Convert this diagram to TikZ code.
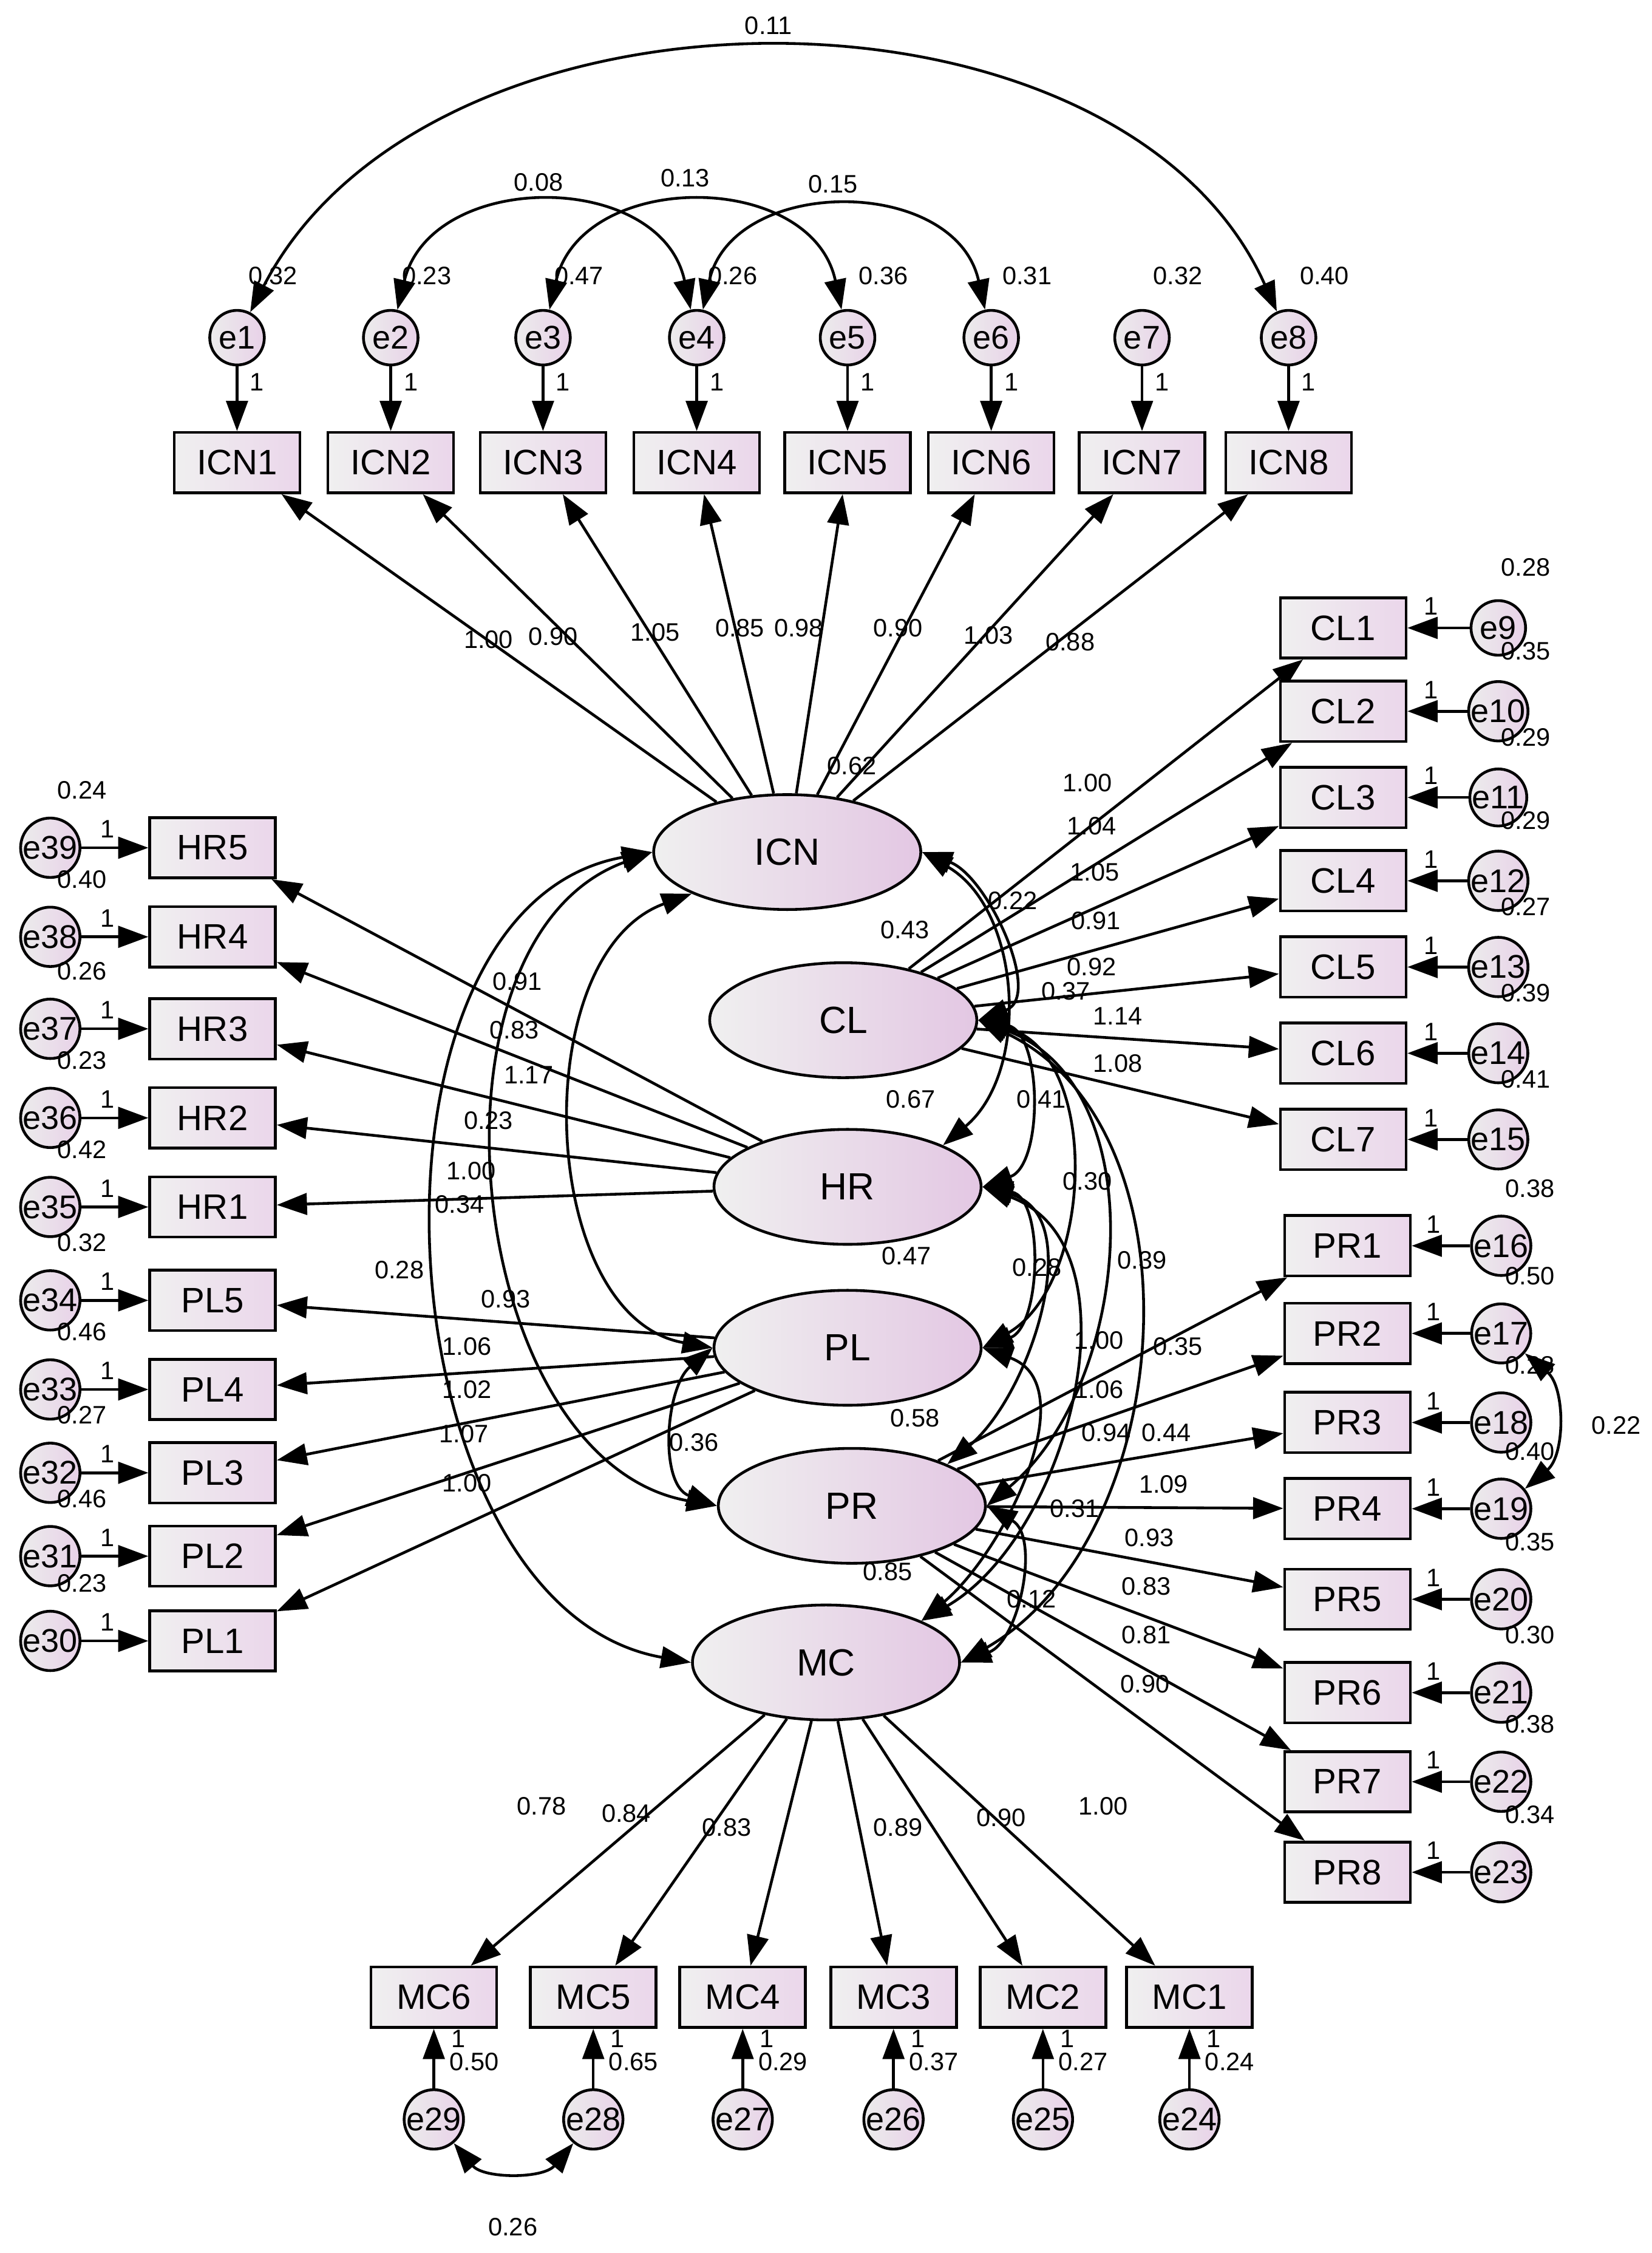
\documentclass[tikz,border=0pt]{standalone}
\usepackage{fontspec}
\setmainfont{Liberation Sans}
\usetikzlibrary{shapes.geometric,arrows.meta}
\tikzset{
  obs/.style={draw, line width=1.1pt, rectangle, minimum width=1.75cm, minimum height=0.84cm, inner sep=0pt,
    left color=gray!12, right color=violet!16, font=\fontsize{14}{14}\selectfont},
  err/.style={draw, line width=1.1pt, circle, minimum size=0.76cm, inner sep=0pt,
    left color=gray!15, right color=violet!18, font=\fontsize{13}{13}\selectfont},
  lat/.style={draw, line width=1.1pt, ellipse, minimum width=3.72cm, minimum height=1.6cm,
    left color=gray!12, right color=violet!22, font=\fontsize{15}{15}\selectfont},
  tip/.tip={Triangle[length=0.42cm, width=0.3cm]},
  path/.style={line width=1.1pt, -tip},
  cov/.style={line width=1.1pt, tip-tip},
  lbl/.style={font=\fontsize{10}{10}\selectfont, inner sep=0pt}
}
\begin{document}
\begin{tikzpicture}[x=0.02cm, y=-0.02cm]
  \useasboundingbox (0,0) rectangle (1150,1568);
  % latent variables
  \node[lat] (ICN) at (548,593) {ICN};
  \node[lat] (CL) at (587,710) {CL};
  \node[lat] (HR) at (590,826) {HR};
  \node[lat] (PL) at (590,938) {PL};
  \node[lat] (PR) at (593,1048) {PR};
  \node[lat] (MC) at (575,1157) {MC};
  % latent variances
  \foreach \x/\y/\v in {593/533/0.62, 630/647/0.43, 634/765/0.67, 631/874/0.47, 637/987/0.58, 618/1094/0.85}
    \node[lbl] at (\x,\y) {\v};
  % ICN indicators
  \foreach \i/\x/\v in {1/165/0.32, 2/272/0.23, 3/378/0.47, 4/485/0.26, 5/590/0.36, 6/690/0.31, 7/795/0.32, 8/897/0.40} {
    \node[err] (e\i) at (\x,235) {e\i};
    \node[obs] (ICN\i) at (\x,322) {ICN\i};
    \draw[path] (e\i) -- (ICN\i);
    \draw[path] (ICN) -- (ICN\i);
    \node[lbl] at (\x+25,192) {\v};
    \node[lbl] at (\x+14,266) {1};
  }
  \foreach \x/\y/\v in {340/445/1.00, 385/443/0.90, 456/440/1.05, 515/437/0.85, 556/437/0.98, 625/437/0.90, 688/442/1.03, 745/447/0.88}
    \node[lbl] at (\x,\y) {\v};
  % error covariances, top
  \draw[cov] (e1) .. controls (300,-26) and (780,-26) .. (e8);
  \draw[cov] (e2) .. controls (300,118) and (460,118) .. (e4);
  \draw[cov] (e3) .. controls (405,118) and (565,118) .. (e5);
  \draw[cov] (e4) .. controls (510,122) and (665,122) .. (e6);
  \node[lbl] at (535,18) {0.11};
  \node[lbl] at (375,127) {0.08};
  \node[lbl] at (477,124) {0.13};
  \node[lbl] at (580,128) {0.15};
  % CL indicators
  \foreach \i/\y/\e/\v in {1/437/9/0.28, 2/495/10/0.35, 3/555/11/0.29, 4/613/12/0.29, 5/673/13/0.27, 6/733/14/0.39, 7/793/15/0.41} {
    \node[obs] (CL\i) at (935,\y) {CL\i};
    \node[err] (e\e) at (1043,\y) {e\e};
    \draw[path] (e\e) -- (CL\i);
    \draw[path] (CL) -- (CL\i);
    \node[lbl] at (1062,\y-42) {\v};
    \node[lbl] at (996,\y-15) {1};
  }
  \foreach \x/\y/\v in {757/545/1.00, 760/575/1.04, 762/607/1.05, 763/641/0.91, 760/673/0.92, 778/707/1.14, 778/740/1.08}
    \node[lbl] at (\x,\y) {\v};
  % PR indicators
  \foreach \i/\y/\e/\v in {1/867/16/0.38, 2/928/17/0.50, 3/990/18/0.28, 4/1050/19/0.40, 5/1113/20/0.35, 6/1178/21/0.30, 7/1240/22/0.38, 8/1303/23/0.34} {
    \node[obs] (PR\i) at (938,\y) {PR\i};
    \node[err] (e\e) at (1045,\y) {e\e};
    \draw[path] (e\e) -- (PR\i);
    \draw[path] (PR) -- (PR\i);
    \node[lbl] at (1065,\y-40) {\v};
    \node[lbl] at (998,\y-15) {1};
  }
  \foreach \x/\y/\v in {765/933/1.00, 820/937/0.35, 812/997/0.44, 810/1033/1.09, 800/1070/0.93, 798/1104/0.83, 798/1138/0.81, 797/1172/0.90}
    \node[lbl] at (\x,\y) {\v};
  \draw[cov] (e17) to[bend left=50] (e19);
  \node[lbl] at (1125,992) {0.22};
  % HR and PL indicators
  \foreach \n/\i/\y/\e/\v in {HR/5/590/39/0.24, HR/4/652/38/0.40, HR/3/716/37/0.26, HR/2/778/36/0.23, HR/1/840/35/0.42,
                              PL/5/905/34/0.32, PL/4/967/33/0.46, PL/3/1025/32/0.27, PL/2/1083/31/0.46, PL/1/1142/30/0.23} {
    \node[obs] (\n\i) at (148,\y) {\n\i};
    \node[err] (e\e) at (35,\y) {e\e};
    \draw[path] (e\e) -- (\n\i);
    \draw[path] (\n) -- (\n\i);
    \node[lbl] at (57,\y-40) {\v};
    \node[lbl] at (75,\y-13) {1};
  }
  \foreach \x/\y/\v in {360/683/0.91, 358/717/0.83, 368/748/1.17, 340/780/0.23, 328/815/1.00, 352/904/0.93, 325/937/1.06, 325/967/1.02, 323/998/1.07, 325/1032/1.00}
    \node[lbl] at (\x,\y) {\v};
  % MC indicators
  \foreach \i/\x/\e/\v in {6/302/29/0.50, 5/413/28/0.65, 4/517/27/0.29, 3/622/26/0.37, 2/726/25/0.27, 1/828/24/0.24} {
    \node[obs] (MC\i) at (\x,1390) {MC\i};
    \node[err] (e\e) at (\x,1475) {e\e};
    \draw[path] (e\e) -- (MC\i);
    \draw[path] (MC) -- (MC\i);
    \node[lbl] at (\x+28,1435) {\v};
    \node[lbl] at (\x+17,1419) {1};
  }
  \foreach \x/\y/\v in {377/1257/0.78, 436/1262/0.84, 506/1272/0.83, 625/1272/0.89, 697/1265/0.90, 768/1257/1.00}
    \node[lbl] at (\x,\y) {\v};
  \draw[cov] (e29) to[bend right=50] (e28);
  \node[lbl] at (357,1550) {0.26};
  % latent covariances
  \draw[cov] (ICN.east) to[out=-20, in=20] (CL.east);
  \draw[cov] (ICN.east) to[out=-30, in=40] (HR.north east);
  \draw[cov] (ICN.south west) to[out=200, in=170] (PL.west);
  \draw[cov] (ICN.west) to[out=200, in=170] (PR.west);
  \draw[cov] (ICN.west) to[out=190, in=170] (MC.west);
  \draw[cov] (CL.east) to[out=-10, in=20] (HR.east);
  \draw[cov] (CL.east) to[out=-15, in=30] (PL.east);
  \draw[cov] (CL.east) to[out=-20, in=40] (PR.east);
  \draw[cov] (CL.east) to[out=-25, in=30] (MC.east);
  \draw[cov] (HR.east) to[out=-10, in=20] (PL.east);
  \draw[cov] (HR.east) to[out=-15, in=40] (PR.north east);
  \draw[cov] (HR.east) to[out=-20, in=30] (MC.north east);
  \draw[cov] (PL.west) to[out=220, in=160] (PR.west);
  \draw[cov] (PL.east) to[out=-20, in=40] (MC.north east);
  \draw[cov] (PR.east) to[out=-30, in=20] (MC.east);
  \foreach \x/\y/\v in {705/627/0.22, 742/690/0.37, 725/765/0.41, 757/822/0.30, 795/877/0.39, 722/882/0.28, 483/1004/0.36, 748/1050/0.31, 718/1113/0.12, 320/838/0.34, 278/884/0.28, 765/967/1.06, 770/997/0.94}
    \node[lbl] at (\x,\y) {\v};
\end{tikzpicture}
\end{document}
